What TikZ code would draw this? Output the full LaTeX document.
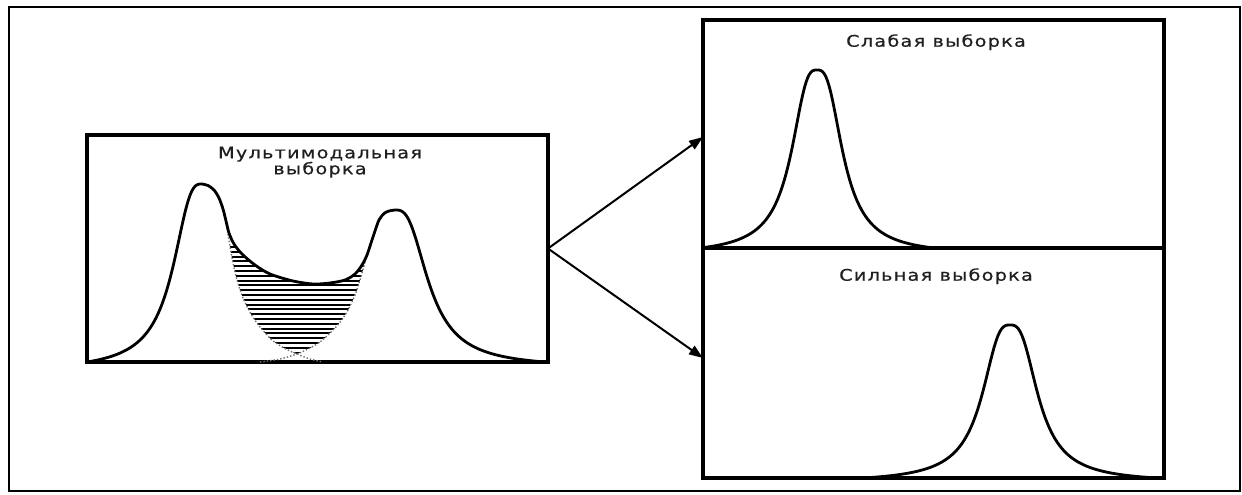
\documentclass[tikz,border=0pt]{standalone}
\usepackage{fontspec}
\newfontfamily\labfont[FakeStretch=1.2,LetterSpace=8,FakeBold=0.6]{DejaVu Sans}
\usetikzlibrary{arrows.meta}
\begin{document}
\begin{tikzpicture}[x=0.5pt,y=-0.5pt,
  box/.style={draw, line width=1.6pt, inner sep=0pt, outer sep=0pt},
  curve/.style={line width=1.4pt, line join=round, line cap=round},
  tail/.style={densely dotted, line width=0.7pt, black!55},
  hatchline/.style={line width=1pt},
  arr/.style={line width=1pt, -{Triangle[length=7pt,width=5pt]}},
  lab/.style={font=\labfont\fontsize{8}{8}\selectfont, align=center, text=black!88, inner sep=0pt},
  declare function={pk(\pa,\pb,\pc)=(pow(1+pow(abs(\pa/\pb),3),-0.666667)-\pc)/(1-\pc);}
]
\useasboundingbox (0,0) rectangle (1242,494);
\draw[line width=1.1pt] (9,7) rectangle (1240,491);

\node[box, minimum width=230.5pt, minimum height=113.5pt] (multi) at (317.5,248.5) {};
\node[box, minimum width=230.5pt, minimum height=114pt] (weak) at (933.5,134) {};
\node[box, minimum width=230.5pt, minimum height=115pt] (strong) at (933.5,363) {};

% hatching
\begin{scope}
\clip plot[smooth] coordinates {(226,231) (234,243) (242,253) (255,264) (270,273) (293,280) (313,283) (330,282) (345,279) (355,273) (366,261)}
  -- plot[smooth] coordinates {(365,262) (360,280) (355,295) (348,310) (341,321) (331,332) (320,342) (308,349) (297,354)}
  -- plot[smooth] coordinates {(297,354) (284,348) (272,340) (260,327) (251,314) (243,298) (237,280) (232,258) (228,234)} -- cycle;
\foreach \yy in {247,251.8,...,353} \draw[hatchline] (220,\yy) -- (370,\yy);
\end{scope}

% dotted component tails
\draw[tail] plot[smooth] coordinates {(228,234) (232,258) (237,280) (243,298) (251,314) (260,327) (272,340) (284,348) (297,354) (310,359) (323,362)};
\draw[tail] plot[smooth] coordinates {(365,262) (360,280) (355,295) (348,310) (341,321) (331,332) (320,342) (308,349) (297,354) (280,359) (260,362)};

% multimodal curve
\draw[curve] plot[domain=87:202, samples=100] (\x,{362-178*pk(\x-202,26,0.0507)})
  -- plot[smooth] coordinates {(202,184) (208,185.5) (214,190) (219,198) (223,209) (226,221) (229,233) (234,244) (242,254) (255,265) (270,274) (293,281) (313,284) (330,283) (345,280) (355,274) (362,265) (367,255) (371,243) (375,231) (379,220) (384,213.5) (389,211) (395,210)}
  -- plot[domain=395:545, samples=100] (\x,{362-152*pk(\x-395,29.5,0.0385)});

% single peaks
\draw[curve] plot[domain=703:934, samples=140] (\x,{248-178*pk(\x-817,23,0.0385)});
\draw[curve] plot[domain=863:1157, samples=160] (\x,{478-153*pk(\x-1010,25,0.0288)});

% labels
\node[lab, anchor=base] (mlab) at (320,174.3) {Мультимодальная\\выборка};
\node[lab, anchor=base] (wlab) at (936,46.7) {Слабая выборка};
\node[lab, anchor=base] (slab) at (936,280.7) {Сильная выборка};

% arrows
\draw[arr] (multi.east) -- ([yshift=-1.5pt]weak.west);
\draw[arr] (multi.east) -- ([yshift=2.5pt]strong.west);
\end{tikzpicture}
\end{document}
